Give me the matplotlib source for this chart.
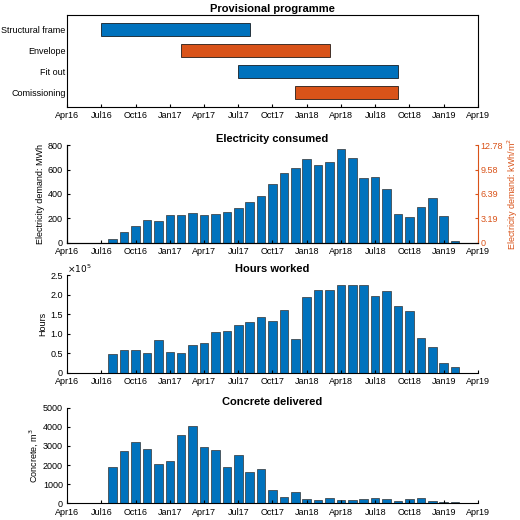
import numpy as np
import matplotlib
matplotlib.use('Agg')
import matplotlib.pyplot as plt

plt.rcParams['font.family'] = ['Liberation Sans', 'DejaVu Sans']
plt.rcParams['font.size'] = 6.5

BLUE = '#0072BD'
ORANGE = '#D95319'

tick_labels = ['Apr16', 'Jul16', 'Oct16', 'Jan17', 'Apr17', 'Jul17', 'Oct17',
               'Jan18', 'Apr18', 'Jul18', 'Oct18', 'Jan19', 'Apr19']
# months counted from Apr16; bars run Aug16..Feb19
months = np.arange(4, 35)

electricity = [35, 85, 140, 190, 175, 225, 225, 245, 225, 235, 250, 285, 335, 385,
               480, 570, 610, 690, 635, 665, 765, 695, 530, 535, 440, 235, 210,
               295, 365, 220, 15]
hours = np.array([47, 58, 59, 52, 83, 54, 52, 72, 77, 104, 107, 122, 130, 144, 132,
                  161, 86, 193, 211, 213, 224, 224, 224, 197, 210, 170, 158, 90,
                  66, 25, 15]) * 1000
concrete = [1900, 2750, 3200, 2820, 2080, 2200, 3550, 4050, 2950, 2800, 1920, 2520,
            1650, 1800, 700, 330, 570, 220, 150, 280, 170, 200, 240, 270, 250, 120,
            250, 270, 120, 80, 60]

tasks = ['Structural frame', 'Envelope', 'Fit out', 'Comissioning']
task_start = [3, 10, 15, 20]
task_end = [16, 23, 29, 29]
task_color = [BLUE, ORANGE, BLUE, ORANGE]

fig = plt.figure(figsize=(5.2, 5.2), dpi=100)
left, width = 0.129, 0.79
ax0 = fig.add_axes([left, 0.794, width, 0.178])
ax1 = fig.add_axes([left, 0.533, width, 0.188])
ax2 = fig.add_axes([left, 0.283, width, 0.188])
ax3 = fig.add_axes([left, 0.032, width, 0.184])

ticks = np.arange(0, 37, 3)

def style(ax):
    ax.set_xlim(0, 36)
    ax.set_xticks(ticks)
    ax.set_xticklabels(tick_labels)
    ax.tick_params(direction='in', length=2, pad=3)
    ax.spines['top'].set_visible(False)
    ax.spines['right'].set_visible(False)

# Gantt
ypos = np.arange(len(tasks))
ax0.barh(ypos, np.array(task_end) - np.array(task_start), left=task_start,
         height=0.6, color=task_color, edgecolor='k', linewidth=0.5)
ax0.set_yticks(ypos)
ax0.set_yticklabels(tasks)
ax0.set_ylim(3.7, -0.7)
ax0.set_xlim(0, 36)
ax0.set_xticks(ticks)
ax0.set_xticklabels(tick_labels)
ax0.tick_params(direction='in', length=2, pad=3)
ax0.tick_params(axis='y', length=0, pad=1)
ax0.set_title('Provisional programme', fontweight='bold', fontsize=8, pad=2)

bar_kw = dict(width=0.75, color=BLUE, edgecolor='#333333', linewidth=0.5)

ax1.bar(months, electricity, **bar_kw)
style(ax1)
ax1.set_ylim(0, 800)
ax1.set_yticks([0, 200, 400, 600, 800])
ax1.set_ylabel('Electricity demand: MWh', labelpad=2)
ax1.set_title('Electricity consumed', fontweight='bold', fontsize=8, pad=2)
ax1r = ax1.twinx()
ax1r.set_ylim(0, 12.78)
ax1r.set_yticks([0, 3.19, 6.39, 9.58, 12.78])
ax1r.set_yticklabels(['0', '3.19', '6.39', '9.58', '12.78'])
ax1r.set_ylabel('Electricity demand: kWh/m$^2$', color=ORANGE, labelpad=2)
ax1r.tick_params(colors=ORANGE, direction='in', length=2, pad=2)
ax1r.spines['right'].set_color(ORANGE)
ax1r.spines['top'].set_visible(False)

ax2.bar(months, hours, **bar_kw)
style(ax2)
ax2.set_ylim(0, 250000)
ax2.set_yticks(np.arange(0, 250001, 50000))
ax2.set_yticklabels(['0', '0.5', '1.0', '1.5', '2.0', '2.5'])
ax2.text(0, 1.0, r'$\times10^5$', transform=ax2.transAxes, fontsize=6.5,
         va='bottom', ha='left')
ax2.set_ylabel('Hours', labelpad=2)
ax2.set_title('Hours worked', fontweight='bold', fontsize=8, pad=2)

ax3.bar(months, concrete, **bar_kw)
style(ax3)
ax3.set_ylim(0, 5000)
ax3.set_yticks(np.arange(0, 5001, 1000))
ax3.set_ylabel('Concrete, m$^3$', labelpad=2)
ax3.set_title('Concrete delivered', fontweight='bold', fontsize=8, pad=2)

fig.savefig('out.png', dpi=100)
